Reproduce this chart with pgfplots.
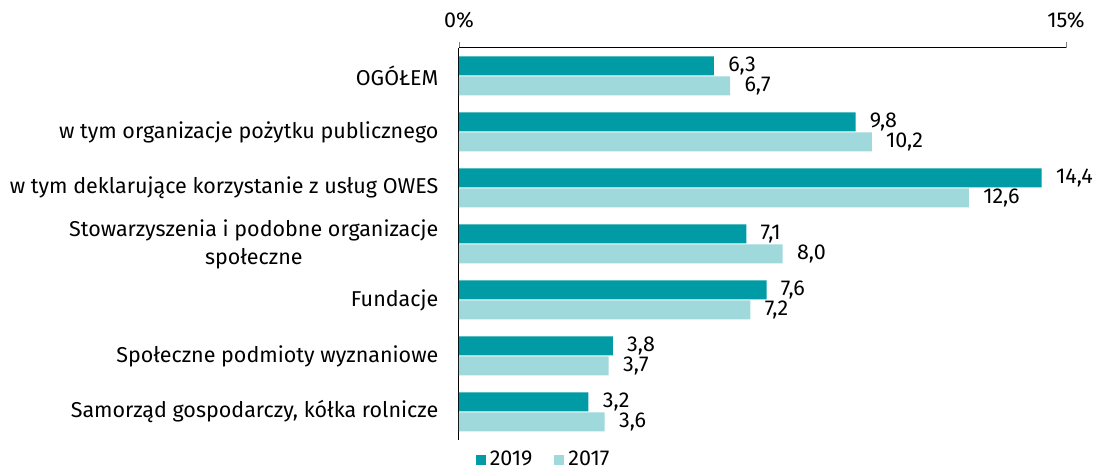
\documentclass[border=0pt]{standalone}
\usepackage{pgfplots}
\pgfplotsset{compat=1.18}
\usepackage{fontspec}
\setmainfont{Fira Sans}
\definecolor{cdark}{RGB}{0,155,164}
\definecolor{clight}{RGB}{160,217,219}
\begin{document}
\fontsize{10.75pt}{13pt}\selectfont
\begin{tikzpicture}
\begin{axis}[
  scale only axis,
  width=303.5pt, height=196pt,
  xmin=0, xmax=15,
  ymin=-0.5, ymax=6.5,
  y dir=reverse,
  axis x line*=top,
  axis y line*=left,
  x axis line style={-, line width=0.5pt},
  y axis line style={-, line width=0.5pt},
  xtick={0,15},
  xticklabels={0\%,15\%},
  tick align=outside,
  major tick length=3pt,
  ytick={0,1,2,3,4,5,6},
  yticklabels={OGÓŁEM,w tym organizacje pożytku publicznego,w tym deklarujące korzystanie z usług OWES,Stowarzyszenia i podobne organizacje\\społeczne,Fundacje,Społeczne podmioty wyznaniowe,{Samorząd gospodarczy, kółka rolnicze}},
  yticklabel style={align=center, font=\fontsize{10.75pt}{14pt}\selectfont, xshift=-3.5pt},
  y tick style={draw=none},
  xticklabel style={font=\fontsize{10.75pt}{13pt}\selectfont, yshift=3pt},
  /pgf/number format/assume math mode=true,
  point meta=x,
  nodes near coords,
  nodes near coords style={anchor=west, inner sep=0pt, xshift=7pt, font=\fontsize{10.75pt}{13pt}\selectfont,
    /pgf/number format/fixed, /pgf/number format/fixed zerofill, /pgf/number format/precision=1,
    /pgf/number format/use comma, /pgf/number format/assume math mode=true},
  legend style={draw=none, at={(0.141,-0.051)}, anchor=center, legend columns=2, font=\fontsize{10.75pt}{13pt}\selectfont,
    /tikz/every even column/.append style={column sep=9pt}, inner sep=0pt,
    nodes={inner sep=2pt}},
  legend image code/.code={\fill[#1] (0pt,-2.5pt) rectangle (5pt,2.5pt);},
  clip=false,
]
\addplot[xbar, bar width=9.5pt, bar shift=5pt, fill=cdark, draw=none,
  every node near coord/.append style={yshift=5pt}] coordinates {
(6.3,0) (9.8,1) (14.4,2) (7.1,3) (7.6,4) (3.8,5) (3.2,6)};
\addlegendentry{2019}
\addplot[xbar, bar width=9.5pt, bar shift=-5pt, fill=clight, draw=none,
  every node near coord/.append style={yshift=-5pt}] coordinates {
(6.7,0) (10.2,1) (12.6,2) (8.0,3) (7.2,4) (3.7,5) (3.6,6)};
\addlegendentry{2017}
\end{axis}
\pgfresetboundingbox
\path (current axis.south west) ++(-229.5pt,-14.5pt) rectangle ++(552.5pt,234.5pt);
\end{tikzpicture}
\end{document}
